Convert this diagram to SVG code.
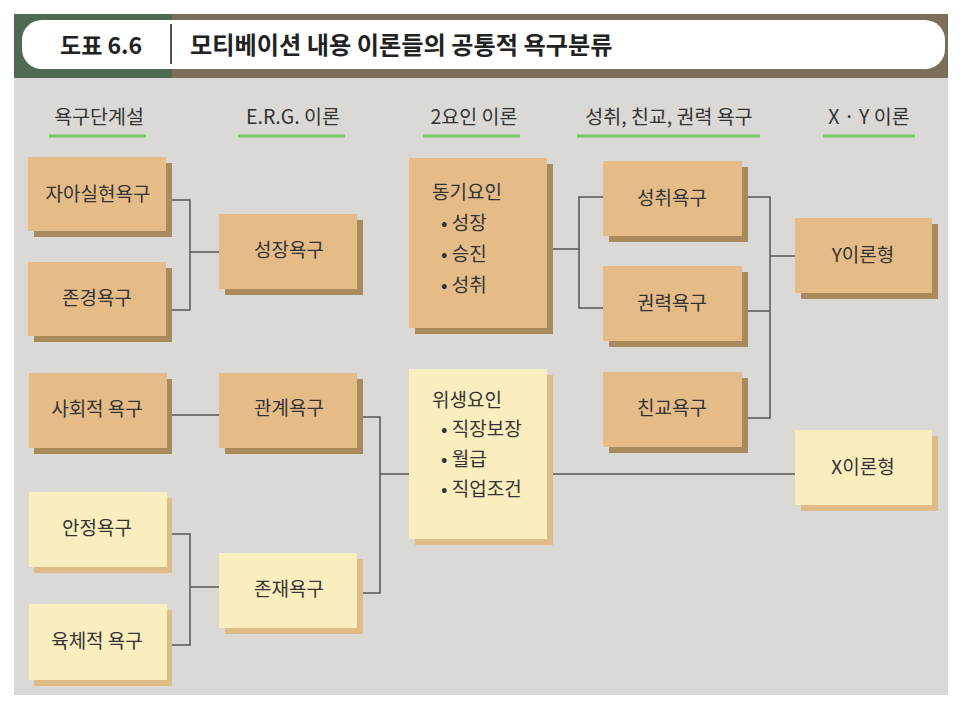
<svg xmlns="http://www.w3.org/2000/svg" width="960" height="709" viewBox="0 0 960 709">
<style>
.t{font-family:"Noto Sans CJK KR","Noto Sans",sans-serif;fill:#333;font-size:19px}
.c{text-anchor:middle}
.h{font-family:"Noto Sans CJK KR","Noto Sans",sans-serif;fill:#333;font-size:19.5px;text-anchor:middle}
.o{fill:#e5bc88}.os{fill:#a88a5c}
.y{fill:#faedbe}.ys{fill:#dfbb88}
.ul{stroke:#7cc46c;stroke-width:3}
.ln{fill:none;stroke:#555;stroke-width:1.5}
</style>
<rect width="960" height="709" fill="#fff"/>
<rect x="14" y="78" width="934" height="617" fill="#dad9d5"/>
<g id="header">
<rect x="14" y="14" width="158" height="64" fill="#4e6a53"/>
<rect x="172" y="14" width="776" height="64" fill="#7b6e5b"/>
<rect x="22" y="20" width="923" height="49" rx="20" fill="#fff"/>
<line x1="171" y1="24" x2="171" y2="64" stroke="#555" stroke-width="2"/>
<text x="60" y="54" class="t" style="font-size:23px;font-weight:bold;fill:#222">도표 6.6</text>
<text x="190" y="54" class="t" style="font-size:24.2px;font-weight:bold;fill:#222">모티베이션 내용 이론들의 공통적 욕구분류</text>
</g>
<g id="columns">
<text x="99" y="124" class="h">욕구단계설</text>
<line x1="49" y1="136" x2="146" y2="136" class="ul"/>
<text x="293" y="124" class="h">E.R.G. 이론</text>
<line x1="238" y1="136" x2="345" y2="136" class="ul"/>
<text x="474" y="124" class="h">2요인 이론</text>
<line x1="423" y1="136" x2="520" y2="136" class="ul"/>
<text x="669" y="124" class="h">성취, 친교, 권력 욕구</text>
<line x1="577" y1="136" x2="760" y2="136" class="ul"/>
<text x="869" y="124" class="h">X · Y 이론</text>
<line x1="823" y1="136" x2="915" y2="136" class="ul"/>
</g>
<g id="connectors">
<path class="ln" d="M172 200H190V310H172M190 252H219"/>
<path class="ln" d="M172 415H219"/>
<path class="ln" d="M363 417H380V593H363M380 474H409"/>
<path class="ln" d="M172 534H190V645H172M190 587H219"/>
<path class="ln" d="M553 249H579M603 197H579V308H603"/>
<path class="ln" d="M748 197H770V418H748M748 311H770M770 256H795"/>
<path class="ln" d="M553 474H795"/>
</g>
<g id="n1"><rect x="34" y="163" width="138" height="74" class="os"/><rect x="28" y="157" width="138" height="74" class="o"/><text x="98" y="201" class="t c">자아실현욕구</text></g>
<g id="n2"><rect x="34" y="268" width="138" height="74" class="os"/><rect x="28" y="262" width="138" height="74" class="o"/><text x="97" y="305" class="t c">존경욕구</text></g>
<g id="n3"><rect x="34" y="379" width="138" height="75" class="os"/><rect x="29" y="373" width="138" height="75" class="o"/><text x="97" y="416" class="t c">사회적 욕구</text></g>
<g id="n4"><rect x="34" y="498" width="138" height="75" class="ys"/><rect x="29" y="492" width="138" height="75" class="y"/><text x="97" y="535" class="t c">안정욕구</text></g>
<g id="n5"><rect x="34" y="610" width="138" height="76" class="ys"/><rect x="29" y="604" width="138" height="76" class="y"/><text x="97" y="648" class="t c">육체적 욕구</text></g>
<g id="n6"><rect x="225" y="220" width="138" height="75" class="os"/><rect x="219" y="214" width="138" height="75" class="o"/><text x="289" y="257" class="t c">성장욕구</text></g>
<g id="n7"><rect x="225" y="379" width="138" height="75" class="os"/><rect x="219" y="373" width="138" height="75" class="o"/><text x="289" y="415" class="t c">관계욕구</text></g>
<g id="n8"><rect x="225" y="559" width="138" height="75" class="ys"/><rect x="219" y="553" width="138" height="75" class="y"/><text x="289" y="596" class="t c">존재욕구</text></g>
<g id="n9"><rect x="415" y="164" width="138" height="170" class="os"/><rect x="409" y="158" width="138" height="170" class="o"/>
<text x="432" y="199" class="t">동기요인</text>
<text x="441" y="230" class="t">• 성장</text>
<text x="441" y="261" class="t">• 승진</text>
<text x="441" y="292" class="t">• 성취</text></g>
<g id="n10"><rect x="415" y="375" width="138" height="170" class="ys"/><rect x="409" y="369" width="138" height="170" class="y"/>
<text x="432" y="407" class="t">위생요인</text>
<text x="441" y="436" class="t">• 직장보장</text>
<text x="441" y="466" class="t">• 월급</text>
<text x="441" y="496" class="t">• 직업조건</text></g>
<g id="n11"><rect x="609" y="167" width="139" height="75" class="os"/><rect x="603" y="161" width="139" height="75" class="o"/><text x="672" y="205" class="t c">성취욕구</text></g>
<g id="n12"><rect x="609" y="272" width="139" height="75" class="os"/><rect x="603" y="266" width="139" height="75" class="o"/><text x="672" y="310" class="t c">권력욕구</text></g>
<g id="n13"><rect x="609" y="378" width="139" height="75" class="os"/><rect x="603" y="372" width="139" height="75" class="o"/><text x="672" y="415" class="t c">친교욕구</text></g>
<g id="n14"><rect x="801" y="224" width="137" height="75" class="os"/><rect x="795" y="218" width="137" height="75" class="o"/><text x="863" y="262" class="t c">Y이론형</text></g>
<g id="n15"><rect x="801" y="436" width="137" height="75" class="ys"/><rect x="795" y="430" width="137" height="75" class="y"/><text x="863" y="474" class="t c">X이론형</text></g>
</svg>
